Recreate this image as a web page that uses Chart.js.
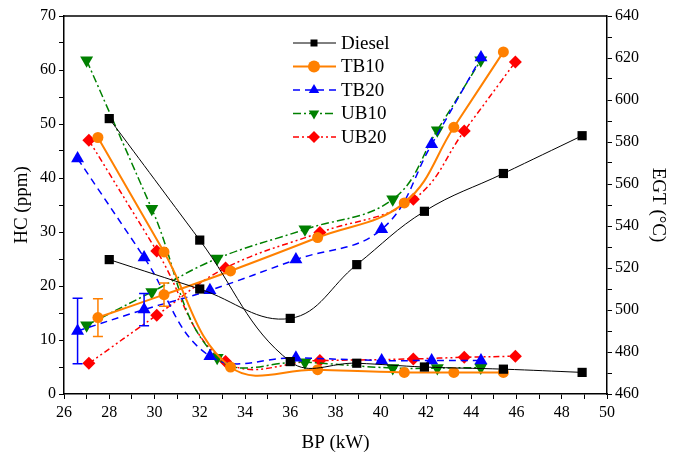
<!DOCTYPE html>
<html>
<head>
<meta charset="utf-8">
<script src="https://cdn.jsdelivr.net/npm/chart.js"></script>
<style>
    html, body { margin: 0; padding: 0; background: #fff; }
    #wrap { width: 680px; height: 455px; }
</style>
</head>
<body>
<div id="wrap"><canvas id="hcChart" width="680" height="455"></canvas></div>
<script>
    // brake power (kW) at each test point, per fuel
    var dieselBP = [28, 32, 36, 38.94, 41.93, 45.42, 48.9];
    var tb10BP   = [27.5, 30.42, 33.36, 37.21, 41.04, 43.23, 45.42];
    var tb20BP   = [26.6, 29.54, 32.45, 36.25, 40.04, 42.25, 44.43];
    var ub10BP   = [27, 29.88, 32.77, 36.65, 40.53, 42.5, 44.42];
    var ub20BP   = [27.1, 30.1, 33.14, 37.31, 41.44, 43.69, 45.95];

    // HC (ppm) - left axis
    var dieselHC = [51.0, 28.5, 6.0, 5.7, 5.0, 4.6, 4.0];
    var tb10HC   = [47.5, 26.3, 5.0, 4.5, 4.0, 4.0, 4.0];
    var tb20HC   = [43.6, 25.3, 7.0, 6.7, 6.2, 6.2, 6.2];
    var ub10HC   = [61.8, 34.3, 6.7, 5.9, 4.8, 4.8, 4.9];
    var ub20HC   = [47.0, 26.5, 6.0, 6.2, 6.5, 6.8, 7.0];

    // EGT (deg C) - right axis
    var dieselEGT = [524, 510, 496, 521.6, 547, 565, 583];
    var tb10EGT   = [496.4, 507.3, 518.6, 534.5, 551, 587, 622.9];
    var tb20EGT   = [490, 500.2, 509.4, 524, 538.4, 578.9, 620.2];
    var ub10EGT   = [492.7, 508.6, 524.5, 538.4, 552.7, 585.6, 618.9];
    var ub20EGT   = [474.6, 497.5, 520, 536.9, 552.7, 585.2, 618.1];

    // EGT error bars (+/- deg C), only first points of TB10 and TB20
    var tb10EGTErr = [9, 5.5];
    var tb20EGTErr = [15.6, 7.7];

    var xTicks = [26, 28, 30, 32, 34, 36, 38, 40, 42, 44, 46, 48, 50];
    var hcTicks = [0, 10, 20, 30, 40, 50, 60, 70];
    var egtTicks = [460, 480, 500, 520, 540, 560, 580, 600, 620, 640];

    var fuels = [
        { name: 'Diesel', bp: dieselBP, hc: dieselHC, egt: dieselEGT, color: '#000000', width: 1, dash: [], style: 'rect', radius: 6.5, rot: 0 },
        { name: 'TB10', bp: tb10BP, hc: tb10HC, egt: tb10EGT, color: '#ff8000', width: 2, dash: [], style: 'circle', radius: 5.5, rot: 0 },
        { name: 'TB20', bp: tb20BP, hc: tb20HC, egt: tb20EGT, color: '#0000ff', width: 1.5, dash: [7, 5], style: 'triangle', radius: 7.5, rot: 0 },
        { name: 'UB10', bp: ub10BP, hc: ub10HC, egt: ub10EGT, color: '#008000', width: 1.5, dash: [8, 3, 2, 3], style: 'triangle', radius: 7.5, rot: 180 },
        { name: 'UB20', bp: ub20BP, hc: ub20HC, egt: ub20EGT, color: '#ff0000', width: 1.5, dash: [6, 3, 2, 3, 2, 3], style: 'rectRot', radius: 6.5, rot: 0 }
    ];

    Chart.defaults.font.family = "'Liberation Serif', 'Times New Roman', serif";
    Chart.defaults.color = '#000';

    function toPoints(xs, ys) {
        var pts = [];
        for (var i = 0; i < xs.length; i++) pts.push({ x: xs[i], y: ys[i] });
        return pts;
    }

    var datasets = [];
    fuels.forEach(function(f) {
        [['hc', 'y'], ['egt', 'y1']].forEach(function(pair) {
            datasets.push({
                label: f.name + ' ' + pair[0],
                data: toPoints(f.bp, f[pair[0]]),
                yAxisID: pair[1],
                borderColor: f.color,
                backgroundColor: f.color,
                borderWidth: f.width,
                borderDash: f.dash,
                pointStyle: f.style,
                pointRadius: f.radius,
                pointRotation: f.rot,
                pointBorderWidth: 0,
                tension: 0.4,
                fill: false
            });
        });
    });

    // small helper to draw the markers in the legend
    function marker(ctx, style, x, y, r, rot) {
        ctx.beginPath();
        if (style === 'circle') {
            ctx.arc(x, y, r, 0, Math.PI * 2);
        } else if (style === 'rect') {
            ctx.rect(x - r * 0.7, y - r * 0.7, r * 1.4, r * 1.4);
        } else if (style === 'rectRot') {
            ctx.moveTo(x, y - r); ctx.lineTo(x + r, y); ctx.lineTo(x, y + r); ctx.lineTo(x - r, y);
        } else if (style === 'triangle') {
            var s = rot ? -1 : 1;
            ctx.moveTo(x, y - s * r);
            ctx.lineTo(x + r * 0.87, y + s * r * 0.5);
            ctx.lineTo(x - r * 0.87, y + s * r * 0.5);
        }
        ctx.closePath();
        ctx.fill();
    }

    var extrasPlugin = {
        id: 'extras',
        afterDatasetsDraw: function(chart) {
            var ctx = chart.ctx;
            var area = chart.chartArea;
            var xs = chart.scales.x, ys = chart.scales.y1;

            // frame top line
            ctx.save();
            ctx.strokeStyle = '#000';
            ctx.lineWidth = 1.5;
            ctx.beginPath();
            ctx.moveTo(area.left, area.top);
            ctx.lineTo(area.right, area.top);
            ctx.stroke();

            // error bars
            [[tb10BP, tb10EGT, tb10EGTErr, '#ff8000'], [tb20BP, tb20EGT, tb20EGTErr, '#0000ff']].forEach(function(e) {
                ctx.strokeStyle = e[3];
                ctx.lineWidth = 1.5;
                for (var i = 0; i < e[2].length; i++) {
                    var px = xs.getPixelForValue(e[0][i]);
                    var top = ys.getPixelForValue(e[1][i] + e[2][i]);
                    var bot = ys.getPixelForValue(e[1][i] - e[2][i]);
                    ctx.beginPath();
                    ctx.moveTo(px, top); ctx.lineTo(px, bot);
                    ctx.moveTo(px - 5, top); ctx.lineTo(px + 5, top);
                    ctx.moveTo(px - 5, bot); ctx.lineTo(px + 5, bot);
                    ctx.stroke();
                }
            });

            // legend
            fuels.forEach(function(f, i) {
                var y = 43 + i * 23.5;
                ctx.strokeStyle = f.color;
                ctx.fillStyle = f.color;
                ctx.lineWidth = f.width;
                ctx.setLineDash(f.dash);
                ctx.beginPath();
                ctx.moveTo(293, y); ctx.lineTo(336, y);
                ctx.stroke();
                ctx.setLineDash([]);
                marker(ctx, f.style, 314, y, f.style === 'rect' ? 5 : 6, f.rot);
                ctx.fillStyle = '#000';
                ctx.font = "19px 'Liberation Serif', 'Times New Roman', serif";
                ctx.textBaseline = 'middle';
                ctx.textAlign = 'left';
                ctx.fillText(f.name, 341, y + 1);
            });
            ctx.restore();
        }
    };

    var tickFont = { size: 16 };
    var titleFont = { size: 19 };

    new Chart(document.getElementById('hcChart').getContext('2d'), {
        type: 'line',
        data: { datasets: datasets },
        plugins: [extrasPlugin],
        options: {
            responsive: false,
            animation: false,
            layout: { padding: { top: 16, left: 0, right: 0, bottom: 0 } },
            plugins: { legend: { display: false }, tooltip: { enabled: false } },
            scales: {
                x: {
                    type: 'linear',
                    min: 26, max: 50,
                    afterFit: function(s) { s.height = 61; },
                    ticks: {
                        stepSize: 1, autoSkip: false, maxRotation: 0, color: '#000', font: tickFont, padding: 4,
                        callback: function(v) { return xTicks.indexOf(v) >= 0 ? String(v) : ''; }
                    },
                    grid: { drawOnChartArea: false, tickLength: 5, color: '#000' },
                    border: { color: '#000', width: 1.5 },
                    title: { display: true, text: 'BP (kW)', color: '#000', font: titleFont, padding: { top: 0, bottom: 1 } }
                },
                y: {
                    position: 'left',
                    min: 0, max: 70,
                    afterFit: function(s) { s.width = 64; },
                    ticks: {
                        stepSize: 5, autoSkip: false, color: '#000', font: tickFont, padding: 3,
                        callback: function(v) { return hcTicks.indexOf(v) >= 0 ? String(v) : ''; }
                    },
                    grid: { drawOnChartArea: false, tickLength: 5, color: '#000' },
                    border: { color: '#000', width: 1.5 },
                    title: { display: true, text: 'HC (ppm)', color: '#000', font: titleFont, padding: { top: 11, bottom: 0 } }
                },
                y1: {
                    position: 'right',
                    min: 460, max: 640,
                    afterFit: function(s) { s.width = 73; },
                    ticks: {
                        stepSize: 10, autoSkip: false, color: '#000', font: tickFont, padding: 3,
                        callback: function(v) { return egtTicks.indexOf(v) >= 0 ? String(v) : ''; }
                    },
                    grid: { drawOnChartArea: false, tickLength: 5, color: '#000' },
                    border: { color: '#000', width: 1.5 },
                    title: { display: true, text: 'EGT (\u00B0C)', color: '#000', font: titleFont, padding: { top: 11, bottom: 0 } }
                }
            }
        }
    });
</script>
</body>
</html>
